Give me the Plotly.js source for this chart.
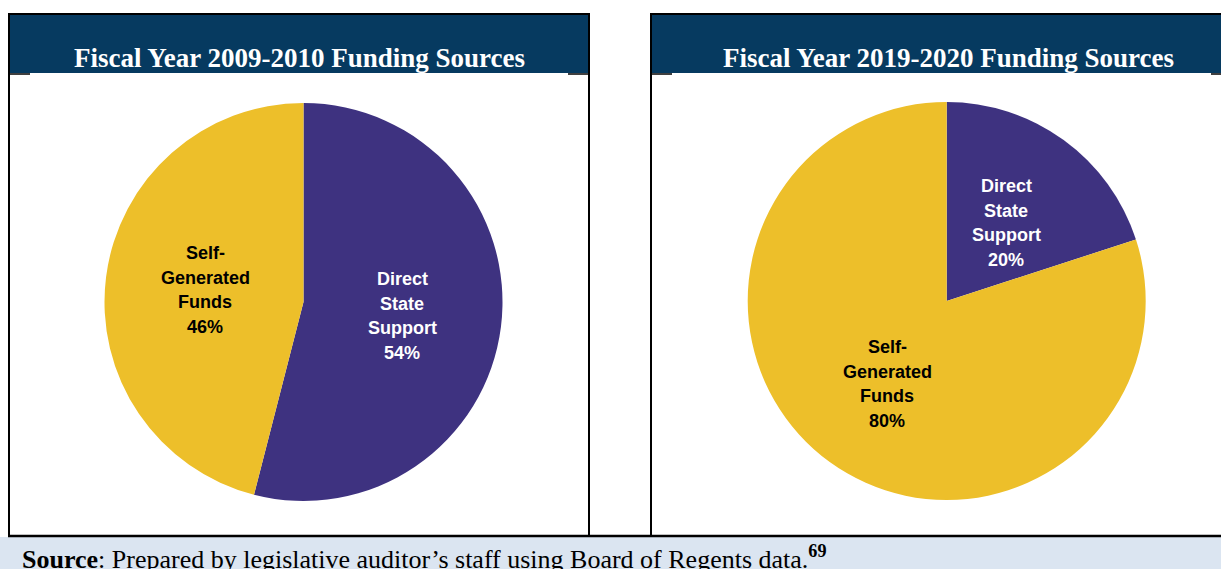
<!DOCTYPE html>
<html>
<head>
<meta charset="utf-8">
<script src="https://cdn.plot.ly/plotly-3.0.1.min.js"></script>
<style>
  html, body { margin: 0; padding: 0; background: #ffffff; }
  #chart { width: 1221px; height: 569px; }
</style>
</head>
<body>
<div id="chart"></div>
<script>
// ---- data ----
const chartTitles = ["Fiscal Year 2009-2010 Funding Sources", "Fiscal Year 2019-2020 Funding Sources"];
const categories = ["Direct State Support", "Self-Generated Funds"];
const categoryLines = [["Direct", "State", "Support"], ["Self-", "Generated", "Funds"]];
const values2010 = [54, 46];
const values2020 = [20, 80];
const sourceNote = "<b>Source</b>: Prepared by legislative auditor\u2019s staff using Board of Regents data.<sup><b>69</b></sup>";

// ---- style ----
const W = 1221, H = 569;
const PURPLE = "#3e3280", YELLOW = "#edbf2a", NAVY = "#063a60", SRC_BG = "#dbe5f1";
const px = x => x / W;
const py = y => 1 - y / H;

const pies = [
  { values: values2010, cx: 303.5, cy: 302, r: 199, labelPos: [[402, 279], [205, 253]] },
  { values: values2020, cx: 946.7, cy: 301, r: 199, labelPos: [[1006, 186], [887, 347]] }
];

const data = pies.map(p => ({
  type: "pie",
  values: p.values,
  labels: categories,
  sort: false,
  direction: "clockwise",
  rotation: 0,
  textinfo: "none",
  hoverinfo: "label+percent",
  marker: { colors: [PURPLE, YELLOW], line: { width: 0 } },
  domain: { x: [px(p.cx - p.r), px(p.cx + p.r)], y: [py(p.cy + p.r), py(p.cy - p.r)] },
  showlegend: false
}));

const annotations = [];
const labelFont = "'Liberation Sans', Arial, sans-serif";
const lineGap = 24.5;
pies.forEach(p => {
  categories.forEach((c, i) => {
    const lines = categoryLines[i].concat([p.values[i] + "%"]);
    const [lx, ly] = p.labelPos[i];
    lines.forEach((t, k) => {
      annotations.push({
        xref: "paper", yref: "paper",
        x: px(lx), y: py(ly + k * lineGap),
        xanchor: "center", yanchor: "middle",
        text: "<b>" + t + "</b>", showarrow: false,
        font: { family: labelFont, size: 18, color: i === 0 ? "#ffffff" : "#000000" }
      });
    });
  });
});

// titles
[[299, 58], [948, 58]].forEach((pos, i) => {
  annotations.push({
    xref: "paper", yref: "paper", x: px(pos[0]), y: py(pos[1]),
    xanchor: "center", yanchor: "middle", showarrow: false,
    text: "<b>" + chartTitles[i] + "</b>",
    font: { family: "'Liberation Serif', 'Times New Roman', serif", size: 27, color: "#ffffff" }
  });
});

// source note
annotations.push({
  xref: "paper", yref: "paper", x: px(20), y: py(557.5),
  xanchor: "left", yanchor: "middle", showarrow: false,
  text: sourceNote,
  font: { family: "'Liberation Serif', 'Times New Roman', serif", size: 26, color: "#000000" }
});

const line = (x0, y0, x1, y1, w) => ({
  type: "line", xref: "paper", yref: "paper", layer: "above",
  x0: px(x0), y0: py(y0), x1: px(x1), y1: py(y1),
  line: { color: "#000000", width: w }
});
const rect = (x0, y0, x1, y1, fill) => ({
  type: "rect", xref: "paper", yref: "paper", layer: "below",
  x0: px(x0), y0: py(y0), x1: px(x1), y1: py(y1),
  fillcolor: fill, line: { width: 0 }
});

const shapes = [
  rect(0, 537, W, H, SRC_BG),
  rect(10, 15, 589, 73, NAVY),
  rect(652, 15, W, 73, NAVY),
  line(9, 14, 590, 14, 2),
  line(651, 14, W, 14, 2),
  line(9, 13, 9, 536, 2),
  line(589, 13, 589, 536, 2),
  line(651, 13, 651, 536, 2),
  line(8, 536, W, 536, 2.5),
  line(10, 74, 30, 74, 1.5),
  line(568, 74, 588, 74, 1.5),
  line(652, 74, 672, 74, 1.5),
  line(1211, 74, W, 74, 1.5)
];

const layout = {
  width: W, height: H,
  margin: { l: 0, r: 0, t: 0, b: 0, pad: 0 },
  paper_bgcolor: "#ffffff",
  plot_bgcolor: "#ffffff",
  showlegend: false,
  annotations: annotations,
  shapes: shapes
};

Plotly.newPlot("chart", data, layout, { displayModeBar: false, staticPlot: true });
</script>
</body>
</html>
